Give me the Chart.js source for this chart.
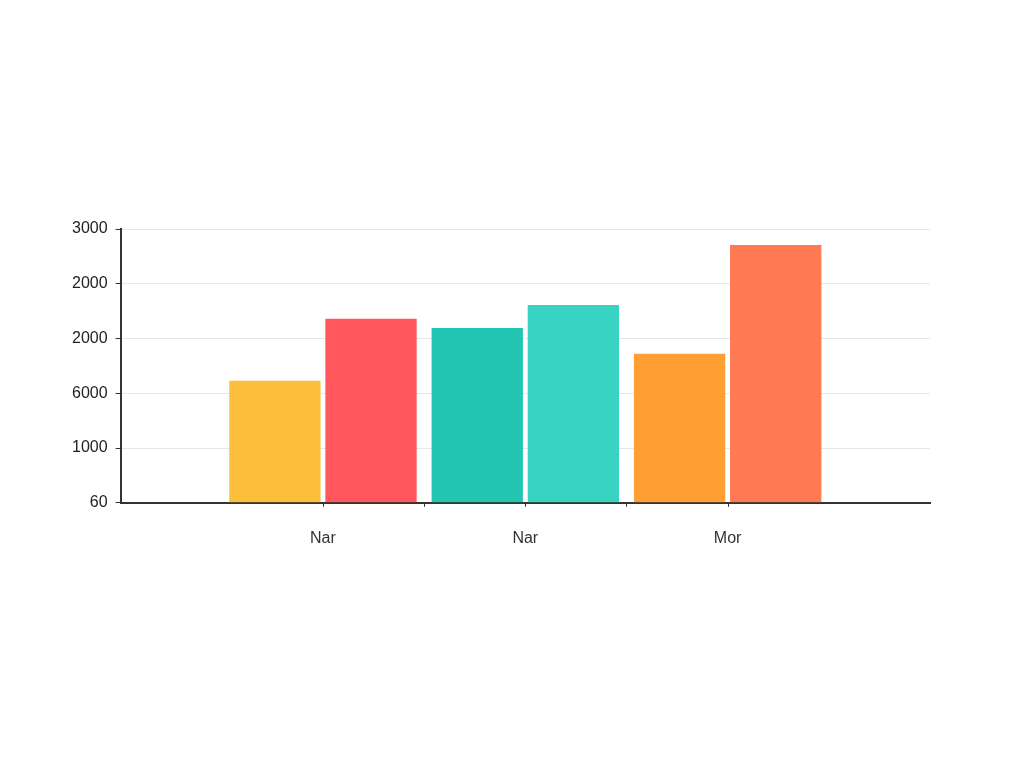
<!DOCTYPE html>
<html>
<head>
<meta charset="utf-8">
<script src="https://cdn.jsdelivr.net/npm/chart.js@4.4.1/dist/chart.umd.min.js"></script>
<style>
  html, body { margin: 0; padding: 0; background: #ffffff; }
  #wrap { position: absolute; left: 0; top: 0; width: 1024px; height: 768px; }
</style>
</head>
<body>
<div id="wrap"><canvas id="c" width="1024" height="768"></canvas></div>
<script>
const categories = ['', 'Nar', 'Nar', 'Mor', ''];
const seriesA = [null, 1338, 1914, 1632, null];
const seriesB = [null, 2016, 2166, 2826, null];
const colorsA = ['#FDBE3C', '#FDBE3C', '#22C5B1', '#FF9F33', '#FF9F33'];
const colorsB = ['#FF575C', '#FF575C', '#38D3C2', '#FF7A52', '#FF7A52'];
const yTickValues = [0, 600, 1200, 1800, 2400, 3000];
const yTickLabels = ['60', '1000', '6000', '2000', '2000', '3000'];

// draws small tick marks at the category centres (in addition to the boundary ticks)
const centerTicks = {
  id: 'centerTicks',
  afterDraw(chart) {
    const x = chart.scales.x, ctx = chart.ctx;
    ctx.save();
    ctx.strokeStyle = '#333333';
    ctx.lineWidth = 1;
    categories.forEach((lab, i) => {
      if (!lab) return;
      const px = Math.round(x.getPixelForValue(i)) + 0.5;
      ctx.beginPath();
      ctx.moveTo(px, x.top);
      ctx.lineTo(px, x.top + 4);
      ctx.stroke();
    });
    ctx.restore();
  }
};

new Chart(document.getElementById('c'), {
  type: 'bar',
  data: {
    labels: categories,
    datasets: [
      { data: seriesA, backgroundColor: colorsA, borderWidth: 0, categoryPercentage: 0.95, barPercentage: 0.95 },
      { data: seriesB, backgroundColor: colorsB, borderWidth: 0, categoryPercentage: 0.95, barPercentage: 0.95 }
    ]
  },
  plugins: [centerTicks],
  options: {
    responsive: false,
    animation: false,
    devicePixelRatio: 1,
    layout: { padding: { left: 64, right: 94, top: 229, bottom: 198 } },
    plugins: { legend: { display: false }, tooltip: { enabled: false } },
    scales: {
      x: {
        offset: false,
        grid: {
          display: true, drawOnChartArea: false, tickLength: 4, offset: true,
          color: (ctx) => (ctx.index === 2 || ctx.index === 3) ? '#333333' : 'rgba(0,0,0,0)'
        },
        border: { display: true, color: '#333333', width: 2 },
        ticks: { color: '#333333', font: { family: 'Liberation Sans', size: 16 }, padding: 22 }
      },
      y: {
        min: 0, max: 3000,
        afterBuildTicks: (axis) => { axis.ticks = yTickValues.map(v => ({ value: v })); },
        grid: { color: '#e3e8ec', lineWidth: 1, tickLength: 5, tickColor: '#333333' },
        border: { display: true, color: '#333333', width: 2 },
        ticks: {
          color: '#222222', font: { family: 'Liberation Sans', size: 16 }, padding: 8,
          callback: (v) => { const i = yTickValues.indexOf(v); return i >= 0 ? yTickLabels[i] : ''; }
        }
      }
    }
  }
});
</script>
</body>
</html>
